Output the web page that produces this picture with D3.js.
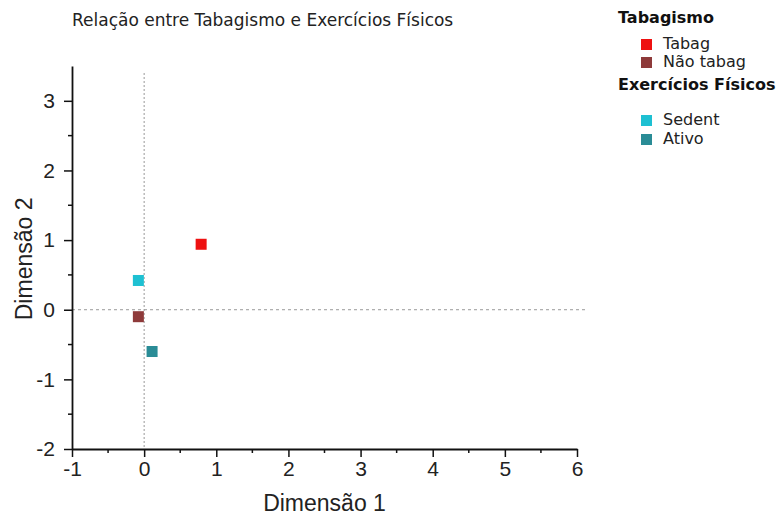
<!DOCTYPE html>
<html lang="pt">
<head>
  <meta charset="UTF-8">
  <title>Relação entre Tabagismo e Exercícios Físicos</title>
  <script src="https://d3js.org/d3.v7.min.js"></script>
  <style>
    body { margin: 0; background: #fff; }
    .title { font-family: "DejaVu Sans", sans-serif; font-size: 17px; fill: #222; }
    .tick text { font-family: "Liberation Sans", Arial, sans-serif; font-size: 21px; fill: #222; }
    .axis-title { font-family: "Liberation Sans", Arial, sans-serif; font-size: 23px; fill: #222; text-anchor: middle; }
    .leg-head { font-family: "DejaVu Sans", sans-serif; font-size: 16px; font-weight: bold; fill: #111; }
    .leg-item { font-family: "DejaVu Sans", sans-serif; font-size: 16px; fill: #222; }
  </style>
</head>
<body>
  <div id="chart"></div>
  <script>
    // categories and coordinates (dimension 1, dimension 2)
    const groups = ["Tabagismo", "Exercícios Físicos"];
    const labels = ["Tabag", "Não tabag", "Sedent", "Ativo"];
    const dim1 = [0.79, -0.08, -0.08, 0.11];
    const dim2 = [0.94, -0.10, 0.42, -0.60];
    const colors = ["#ee1111", "#8e3a3a", "#1ec0d2", "#2a8c96"];

    const xTicks = [-1, 0, 1, 2, 3, 4, 5, 6];
    const yTicks = [-2, -1, 0, 1, 2, 3];

    const width = 782, height = 516;
    const margin = { left: 72, right: 205, top: 66, bottom: 67 };

    const svg = d3.select("#chart").append("svg")
      .attr("width", width)
      .attr("height", height);

    const x = d3.scaleLinear().domain([-1, 6]).range([margin.left, width - margin.right]);
    const y = d3.scaleLinear().domain([-2, 3.5]).range([height - margin.bottom, margin.top]);

    // Title
    svg.append("text").attr("class", "title")
      .attr("x", 72).attr("y", 26)
      .text("Relação entre Tabagismo e Exercícios Físicos");

    // reference lines
    svg.append("line")
      .attr("x1", x(0)).attr("x2", x(0))
      .attr("y1", 73).attr("y2", y(-2))
      .attr("stroke", "#999").attr("stroke-dasharray", "2,2");
    svg.append("line")
      .attr("x1", x(-1)).attr("x2", 585)
      .attr("y1", y(0)).attr("y2", y(0))
      .attr("stroke", "#999").attr("stroke-dasharray", "3,3");

    // minor ticks
    const xMinor = d3.range(-0.5, 6, 1);
    const yMinor = d3.range(-1.5, 3.5, 1);
    svg.append("g").selectAll("line").data(xMinor).join("line")
      .attr("x1", d => x(d)).attr("x2", d => x(d))
      .attr("y1", y(-2)).attr("y2", y(-2) + 4)
      .attr("stroke", "#111").attr("stroke-width", 1.5);
    svg.append("g").selectAll("line").data(yMinor).join("line")
      .attr("y1", d => y(d)).attr("y2", d => y(d))
      .attr("x1", x(-1)).attr("x2", x(-1) - 4)
      .attr("stroke", "#111").attr("stroke-width", 1.5);

    // axes
    const fmt = d => String(d);
    svg.append("g")
      .attr("transform", `translate(0,${y(-2)})`)
      .call(d3.axisBottom(x).tickValues(xTicks).tickFormat(fmt).tickSize(8).tickPadding(4).tickSizeOuter(0))
      .call(g => g.select(".domain").attr("stroke", "#111").attr("stroke-width", 1.8))
      .call(g => g.selectAll(".tick line").attr("stroke", "#111").attr("stroke-width", 1.5));
    svg.append("g")
      .attr("transform", `translate(${x(-1)},0)`)
      .call(d3.axisLeft(y).tickValues(yTicks).tickFormat(fmt).tickSize(8).tickPadding(9).tickSizeOuter(0))
      .call(g => g.select(".domain").attr("stroke", "#111").attr("stroke-width", 1.8))
      .call(g => g.selectAll(".tick line").attr("stroke", "#111").attr("stroke-width", 1.5));

    svg.append("text").attr("class", "axis-title")
      .attr("x", x(2.5)).attr("y", 511)
      .text("Dimensão 1");
    svg.append("text").attr("class", "axis-title")
      .attr("transform", `translate(32,${y(0.73)}) rotate(-90)`)
      .text("Dimensão 2");

    // points
    const s = 11;
    svg.append("g").selectAll("rect").data(labels).join("rect")
      .attr("x", (d, i) => x(dim1[i]) - s / 2)
      .attr("y", (d, i) => y(dim2[i]) - s / 2)
      .attr("width", s).attr("height", s)
      .attr("fill", (d, i) => colors[i]);

    // legend
    const legend = svg.append("g");
    const headY = [23, 90];
    const itemY = [49, 67, 125, 144];
    legend.selectAll("text.leg-head").data(groups).join("text")
      .attr("class", "leg-head")
      .attr("x", 618).attr("y", (d, i) => headY[i])
      .text(d => d);
    legend.selectAll("rect").data(labels).join("rect")
      .attr("x", 641).attr("y", (d, i) => itemY[i] - 10)
      .attr("width", 11).attr("height", 11)
      .attr("fill", (d, i) => colors[i]);
    legend.selectAll("text.leg-item").data(labels).join("text")
      .attr("class", "leg-item")
      .attr("x", 663).attr("y", (d, i) => itemY[i])
      .text(d => d);
  </script>
</body>
</html>
